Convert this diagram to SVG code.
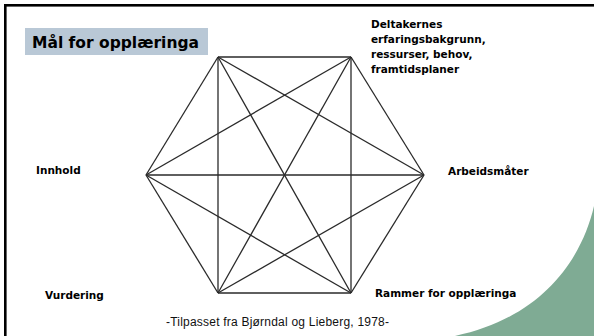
<svg xmlns="http://www.w3.org/2000/svg" width="594" height="336" viewBox="0 0 594 336">
<style>
.lbl{font-family:"DejaVu Sans","Liberation Sans",sans-serif;font-weight:bold;font-size:10.5px;fill:#000}
.ttl{font-family:"DejaVu Sans","Liberation Sans",sans-serif;font-weight:bold;font-size:15.5px;fill:#000}
.src{font-family:"Liberation Sans",Arial,sans-serif;font-size:12px;fill:#111}
.edge{stroke:#2a2a2a;stroke-width:1.3;fill:none}
</style>
<rect x="0" y="0" width="594" height="336" fill="#fff"/>
<path d="M594,206 C581,262 540,318 455,336 L594,336 Z" fill="#7fab94"/>
<rect x="5.3" y="5.3" width="620" height="400" fill="none" stroke="#000" stroke-width="2.6"/>
<g id="title">
<rect x="25" y="28" width="183" height="27" fill="#b9c8d6"/>
<text class="ttl" x="32" y="47.5">Mål for opplæringa</text>
</g>
<g id="connectors">
<line class="edge" x1="218" y1="57" x2="351" y2="57"/>
<line class="edge" x1="218" y1="293" x2="351" y2="293"/>
<line class="edge" x1="218" y1="57" x2="146" y2="175"/>
<line class="edge" x1="146" y1="175" x2="218" y2="293"/>
<line class="edge" x1="351" y1="57" x2="424" y2="175"/>
<line class="edge" x1="424" y1="175" x2="351" y2="293"/>
<line class="edge" x1="218" y1="57" x2="218" y2="293"/>
<line class="edge" x1="351" y1="57" x2="351" y2="293"/>
<line class="edge" x1="146" y1="175" x2="424" y2="175"/>
<line class="edge" x1="218" y1="57" x2="351" y2="293"/>
<line class="edge" x1="351" y1="57" x2="218" y2="293"/>
<line class="edge" x1="218" y1="57" x2="424" y2="175"/>
<line class="edge" x1="351" y1="57" x2="146" y2="175"/>
<line class="edge" x1="146" y1="175" x2="351" y2="293"/>
<line class="edge" x1="424" y1="175" x2="218" y2="293"/>
</g>
<g id="node-deltakernes">
<text class="lbl" x="371" y="28">Deltakernes</text>
<text class="lbl" x="371" y="43">erfaringsbakgrunn,</text>
<text class="lbl" x="371" y="57.5">ressurser, behov,</text>
<text class="lbl" x="371" y="73">framtidsplaner</text>
</g>
<g id="node-innhold"><text class="lbl" x="36" y="174">Innhold</text></g>
<g id="node-arbeidsmater"><text class="lbl" x="448" y="175">Arbeidsmåter</text></g>
<g id="node-vurdering"><text class="lbl" x="45" y="299">Vurdering</text></g>
<g id="node-rammer"><text class="lbl" x="375" y="297">Rammer for opplæringa</text></g>
<g id="source"><text class="src" x="166" y="326" textLength="223" lengthAdjust="spacing">-Tilpasset fra Bjørndal og Lieberg, 1978-</text></g>
</svg>
